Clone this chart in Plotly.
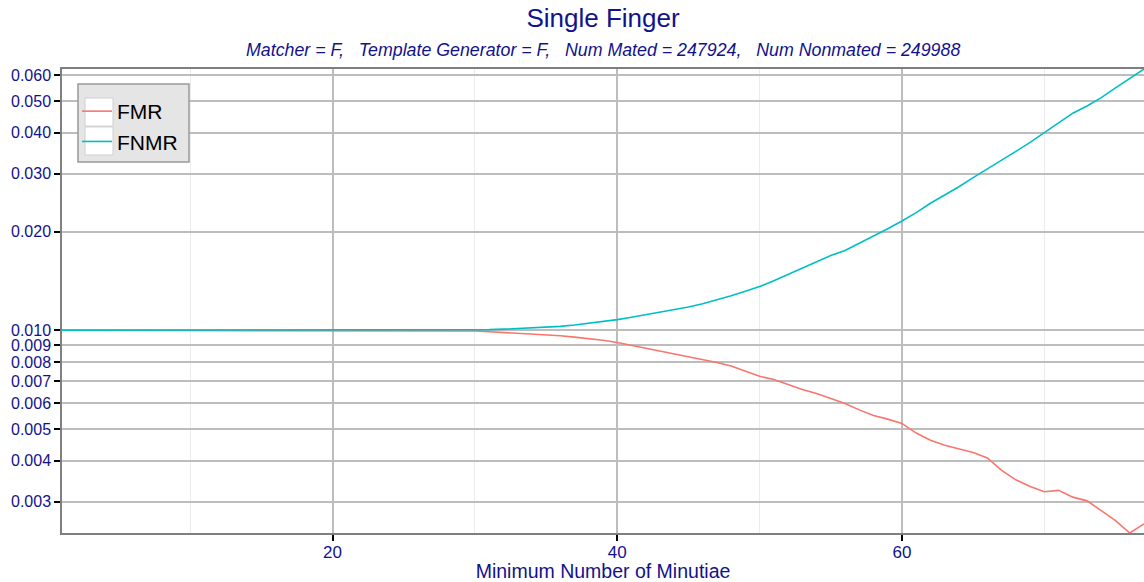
import numpy as np
import plotly.graph_objects as go

# ---- data ----
min_minutiae = list(range(1, 78))
fmr = [0.0100] * 28 + [
    0.00998, 0.00995, 0.00990, 0.00985, 0.00980, 0.00975, 0.00970, 0.00962, 0.00953, 0.00943,
    0.00933, 0.00918, 0.00900, 0.00882, 0.00862, 0.00845, 0.00830, 0.00815, 0.00798, 0.00778,
    0.00752, 0.00724, 0.00708, 0.00682, 0.00660, 0.00642, 0.00618, 0.00598, 0.00572, 0.00550,
    0.00536, 0.00520, 0.00486, 0.00462, 0.00446, 0.00434, 0.00424, 0.00408, 0.00374, 0.00350,
    0.00334, 0.00322, 0.00325, 0.00310, 0.00302, 0.00282, 0.00263, 0.00241, 0.00257,
]
fnmr = [0.0100] * 29 + [
    0.01002, 0.01005, 0.01008, 0.01012, 0.01016, 0.01020, 0.01028, 0.01038, 0.01050, 0.01062,
    0.01078, 0.01096, 0.01115, 0.01136, 0.01157, 0.01178, 0.01205, 0.01237, 0.01274, 0.01315,
    0.01359, 0.01415, 0.01480, 0.01550, 0.01625, 0.01690, 0.01752, 0.01840, 0.01935, 0.02040,
    0.02154, 0.02285, 0.02440, 0.02580, 0.02740, 0.02920, 0.03100, 0.03300, 0.03510, 0.03740,
    0.04000, 0.04280, 0.04590, 0.04830, 0.05120, 0.05480, 0.05850, 0.06260,
]
x_ticks = [20, 40, 60]
y_ticks = [0.003, 0.004, 0.005, 0.006, 0.007, 0.008, 0.009, 0.010,
           0.020, 0.030, 0.040, 0.050, 0.060]
y_tick_labels = ["0.003", "0.004", "0.005", "0.006", "0.007", "0.008", "0.009", "0.010",
                 "0.020", "0.030", "0.040", "0.050", "0.060"]
title_text = "Single Finger"
subtitle_text = "Matcher = F,\u00a0\u00a0\u00a0Template Generator = F,\u00a0\u00a0\u00a0Num Mated = 247924,\u00a0\u00a0\u00a0Num Nonmated = 249988"

FONT = "Liberation Sans, Arial, sans-serif"
BLUE = "#12128c"

W, H = 1144, 582
ML, MR, MT, MB = 62, 0, 69, 49
pw, ph = W - ML - MR, H - MT - MB

def px_x(p):
    return (p - ML) / pw

def px_y(p):
    return (H - MB - p) / ph

fig = go.Figure()
fig.add_trace(go.Scatter(x=min_minutiae, y=fmr, mode="lines", name="FMR",
                         line=dict(color="#F8766D", width=1.6)))
fig.add_trace(go.Scatter(x=min_minutiae, y=fnmr, mode="lines", name="FNMR",
                         line=dict(color="#00BFC4", width=1.6)))

# legend background box and white key squares
shapes = [
    dict(type="rect", xref="paper", yref="paper", layer="above",
         x0=px_x(78), x1=px_x(189), y0=px_y(162), y1=px_y(84),
         fillcolor="#e5e5e5", line=dict(color="#999999", width=1.5)),
    dict(type="rect", xref="paper", yref="paper", layer="above",
         x0=px_x(85), x1=px_x(113), y0=px_y(126), y1=px_y(98),
         fillcolor="white", line=dict(color="#d0d0d0", width=1)),
    dict(type="rect", xref="paper", yref="paper", layer="above",
         x0=px_x(85), x1=px_x(113), y0=px_y(155), y1=px_y(127),
         fillcolor="white", line=dict(color="#d0d0d0", width=1)),
]

fig.update_layout(
    width=W, height=H,
    margin=dict(l=ML, r=MR, t=MT, b=MB),
    paper_bgcolor="white", plot_bgcolor="white",
    font=dict(family=FONT, color=BLUE),
    title=dict(text=title_text, x=(ML + W) / 2 / W, xanchor="center",
               y=1 - 18 / H, yanchor="middle", yref="container",
               font=dict(size=26, color=BLUE, family=FONT)),
    showlegend=True,
    legend=dict(x=px_x(77), y=px_y(91), xanchor="left", yanchor="top",
                bgcolor="rgba(0,0,0,0)", borderwidth=0,
                font=dict(size=21, color="black", family=FONT),
                tracegroupgap=0, itemwidth=30),
    shapes=shapes,
    annotations=[dict(text="<i>" + subtitle_text + "</i>", xref="paper", yref="paper",
                      x=0.5, y=px_y(50), xanchor="center", yanchor="middle",
                      showarrow=False, font=dict(size=17.8, color=BLUE, family=FONT))],
)

fig.update_xaxes(
    range=[min(min_minutiae), max(min_minutiae)],
    tickvals=x_ticks, ticks="outside", ticklen=6, tickwidth=1.5, tickcolor="black",
    tickfont=dict(size=17, color=BLUE), ticklabelstandoff=-3,
    showgrid=True, gridcolor="#bdbdbd", gridwidth=1.5,
    minor=dict(dtick=10, tick0=0, showgrid=True, gridcolor="#ebebeb", gridwidth=1, ticks=""),
    showline=True, linecolor="#7f7f7f", linewidth=1.5, mirror=True,
    zeroline=False,
    title=dict(text="Minimum Number of Minutiae", font=dict(size=19.5, color=BLUE), standoff=2),
)
fig.update_yaxes(
    type="log",
    range=[np.log10(min(fmr)), np.log10(max(fnmr))],
    tickvals=y_ticks, ticktext=y_tick_labels,
    ticks="outside", ticklen=6, tickwidth=1.5, tickcolor="black",
    tickfont=dict(size=16, color=BLUE),
    showgrid=True, gridcolor="#bdbdbd", gridwidth=1.5,
    showline=True, linecolor="#7f7f7f", linewidth=1.5, mirror=False,
    zeroline=False,
)

fig.write_html("out.html", config={"displayModeBar": False},
               post_script="document.body.style.margin='0';document.body.style.padding='0';")
